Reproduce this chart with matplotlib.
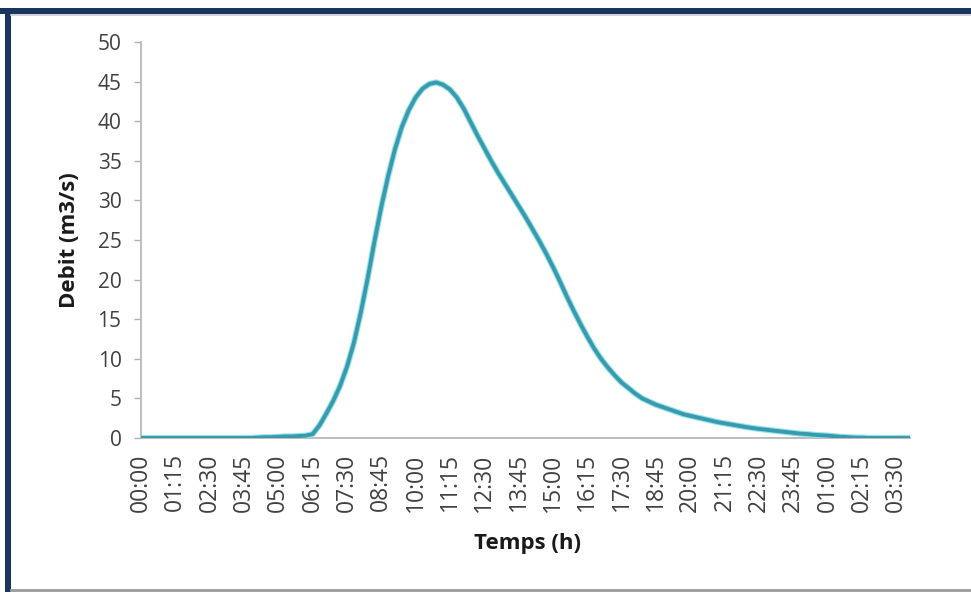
import matplotlib
matplotlib.use("Agg")
import matplotlib.pyplot as plt
from matplotlib.patches import Rectangle
from matplotlib.lines import Line2D

# Hydrograph: discharge every 15 minutes, from 00:00 to 04:00 the next day
discharge = [
    0.0, 0.0, 0.0, 0.0, 0.0, 0.0, 0.0, 0.0, 0.0, 0.0,
    0.0, 0.0, 0.0, 0.0, 0.0, 0.0, 0.0, 0.05, 0.1, 0.1,
    0.15, 0.2, 0.2, 0.25, 0.3, 0.5, 1.6, 3.1, 4.7, 6.6,
    9.0, 12.0, 15.8, 20.1, 24.8, 29.2, 33.1, 36.5, 39.3, 41.4,
    43.0, 44.1, 44.7, 44.9, 44.6, 44.0, 43.0, 41.6, 39.9, 38.2,
    36.6, 35.0, 33.5, 32.1, 30.7, 29.3, 27.9, 26.4, 24.9, 23.3,
    21.6, 19.8, 17.9, 16.1, 14.4, 12.8, 11.3, 10.0, 8.9, 7.9,
    7.0, 6.3, 5.6, 5.0, 4.6, 4.2, 3.9, 3.6, 3.3, 3.0,
    2.8, 2.6, 2.4, 2.2, 2.0, 1.85, 1.7, 1.55, 1.4, 1.27,
    1.15, 1.05, 0.95, 0.85, 0.75, 0.65, 0.55, 0.5, 0.4, 0.35,
    0.3, 0.22, 0.15, 0.1, 0.05, 0.05, 0.0, 0.0, 0.0, 0.0,
    0.0, 0.0, 0.0,
]

# One label every fifth step (1 h 15 min)
tick_labels = [
    "00:00", "01:15", "02:30", "03:45", "05:00", "06:15", "07:30", "08:45",
    "10:00", "11:15", "12:30", "13:45", "15:00", "16:15", "17:30", "18:45",
    "20:00", "21:15", "22:30", "23:45", "01:00", "02:15", "03:30",
]
label_step = 5

y_ticks = [0, 5, 10, 15, 20, 25, 30, 35, 40, 45, 50]

W, H = 971, 592
fig = plt.figure(figsize=(W / 100, H / 100), dpi=100)
fig.patch.set_facecolor("white")

ax = fig.add_axes([141 / W, 1 - 438 / H, (910 - 141) / W, (438 - 42) / H])

steps = list(range(len(discharge)))
ax.plot(steps, discharge, color="#8fe3ef", lw=4.4, solid_capstyle="butt", zorder=2)
ax.plot(steps, discharge, color="#3a9aab", lw=2.8, solid_capstyle="butt", zorder=3)

ax.set_xlim(0, len(discharge) - 1)
ax.set_ylim(0, 50)

tick_font = "Open Sans"
ax.set_xticks([i * label_step for i in range(len(tick_labels))])
ax.set_xticklabels(tick_labels, rotation=90, fontsize=16.5, color="#404040",
                   family=tick_font)
ax.tick_params(axis="x", length=0, pad=11)

ax.set_yticks(y_ticks)
ax.set_yticklabels([str(v) for v in y_ticks], fontsize=15, color="#404040",
                   family=tick_font)
ax.tick_params(axis="y", length=5, width=1, color="#b0b0b0", pad=9)

for side in ("top", "right"):
    ax.spines[side].set_visible(False)
for side in ("left", "bottom"):
    ax.spines[side].set_color("#b8b8b8")
    ax.spines[side].set_linewidth(1.3)
ax.spines["bottom"].set_zorder(1)

ax.set_ylabel("Debit (m3/s)", fontsize=16, fontweight="bold", color="#1a1a1a",
              family=tick_font)
ax.set_xlabel("Temps (h)", fontsize=16, fontweight="bold", color="#1a1a1a",
              family=tick_font)
ax.yaxis.set_label_coords((80 - 141) / 769, 0.5)
ax.xaxis.set_label_coords((527 - 141) / 769, (438 - 533) / 396)

# Frame around the figure: navy bands on top and left, grey rule at the bottom
navy = "#1b365d"
fig.add_artist(Rectangle((0, 1 - 14 / H), 1, 6 / H, transform=fig.transFigure,
                         facecolor=navy, edgecolor="none"))
fig.add_artist(Rectangle((5 / W, 0), 6 / W, 1 - 8 / H, transform=fig.transFigure,
                         facecolor=navy, edgecolor="none"))
fig.add_artist(Line2D([11 / W, 1], [1 - 15 / H, 1 - 15 / H], transform=fig.transFigure,
                      color="#c8ccd4", lw=1.2))
fig.add_artist(Line2D([11 / W, 1], [2 / H, 2 / H], transform=fig.transFigure,
                      color="#9a9a9a", lw=2))

fig.savefig("out.png", dpi=100, facecolor=fig.get_facecolor())
